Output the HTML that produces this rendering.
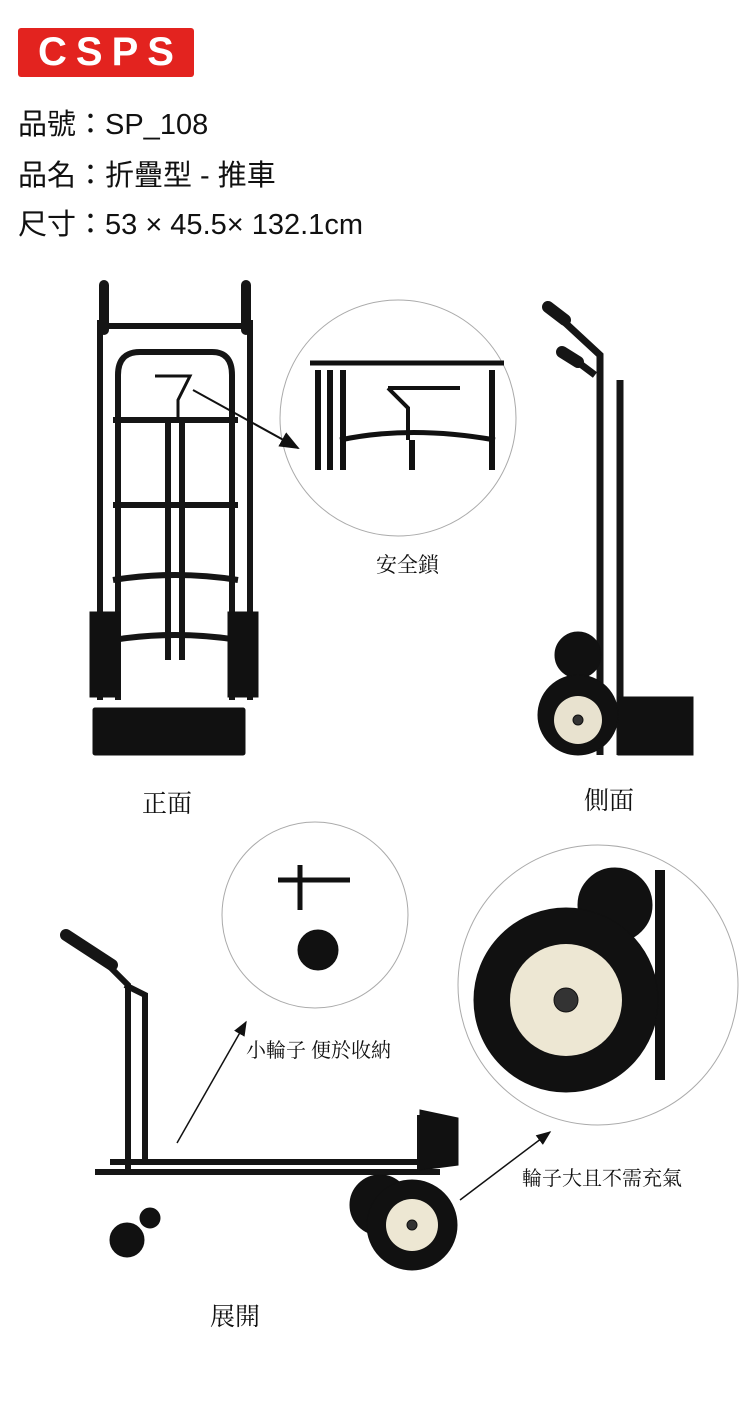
<!DOCTYPE html>
<html><head><meta charset="utf-8"><style>
body{margin:0;background:#fff;width:750px;height:1428px;overflow:hidden;position:relative;font-family:"Liberation Sans","Noto Sans CJK TC",sans-serif}
.t{position:absolute;left:18px;font-size:29px;color:#111;white-space:nowrap}
.s{font-family:"Liberation Serif","Noto Serif CJK SC",serif;position:absolute;color:#111;white-space:nowrap}
</style></head><body>
<div style="position:absolute;left:18px;top:28px;width:176px;height:49px;background:#e3231f;border-radius:3px;color:#fff;font-size:40px;font-weight:bold;letter-spacing:9px;text-align:center;line-height:49px;text-indent:9px">CSPS</div>
<div class="t" style="top:101px">品號：SP_108</div>
<div class="t" style="top:152px">品名：折疊型 - 推車</div>
<div class="t" style="top:201px">尺寸：53 × 45.5× 132.1cm</div>
<div class="s" style="left:376px;top:549px;font-size:21px">安全鎖</div>
<div class="s" style="left:142px;top:784px;font-size:25px">正面</div>
<div class="s" style="left:584px;top:781px;font-size:25px">側面</div>
<div class="s" style="left:246px;top:1034px;font-size:20px">小輪子 便於收納</div>
<div class="s" style="left:522px;top:1162px;font-size:20px">輪子大且不需充氣</div>
<div class="s" style="left:210px;top:1297px;font-size:25px">展開</div>
<svg width="750" height="1428" style="position:absolute;left:0;top:0" fill="none" stroke="#111">
<defs><marker id="a" markerWidth="10" markerHeight="8" refX="9" refY="4" orient="auto"><path d="M0,0L10,4L0,8z" fill="#111" stroke="none"/></marker></defs>
<g stroke="#151515" stroke-width="6">
<path d="M104 285V330M246 285V330" stroke-width="10" stroke-linecap="round"/>
<path d="M100 320V700M250 320V700"/>
<path d="M100 326H250"/>
<path d="M118 700V375Q118 352 140 352H212Q232 352 232 375V700"/>
<path d="M113 420H238M113 505H238M113 580Q175 570 238 580M113 640Q175 630 238 640"/>
<path d="M168 420V660M182 420V660"/>
</g>
<rect x="90" y="612" width="30" height="85" fill="#111"/>
<rect x="228" y="612" width="30" height="85" fill="#111"/>
<rect x="93" y="708" width="152" height="47" fill="#111" rx="2"/>
<path d="M155 376H190L178 400V420" stroke-width="3"/>
<circle cx="398" cy="418" r="118" stroke="#aaa" stroke-width="1"/>
<path d="M310 363H504" stroke-width="5"/>
<path d="M318 370V470M330 370V470M343 370V470M412 440V470M492 370V470" stroke-width="6"/>
<path d="M340 440Q410 425 495 440" stroke-width="5"/>
<path d="M388 388H460M388 388L408 408V440" stroke-width="4"/>
<path d="M193 390L298 448" stroke-width="2" marker-end="url(#a)"/>
<g stroke="#151515" stroke-width="7">
<path d="M548 307L565 320M562 352L578 362" stroke-width="12" stroke-linecap="round"/>
<path d="M560 318L600 355V755M575 360L595 375"/>
<path d="M620 380V755"/>
</g>
<rect x="618" y="697" width="75" height="58" fill="#111"/>
<circle cx="578" cy="655" r="23" fill="#111"/>
<circle cx="578" cy="715" r="40" fill="#111"/>
<circle cx="578" cy="720" r="24" fill="#e8e2cf" stroke="none"/>
<circle cx="578" cy="720" r="5" fill="#333"/>
<circle cx="315" cy="915" r="93" stroke="#aaa" stroke-width="1"/>
<path d="M278 880H350M300 865V910" stroke-width="5"/>
<circle cx="318" cy="950" r="20" fill="#111"/>
<circle cx="598" cy="985" r="140" stroke="#aaa" stroke-width="1"/>
<path d="M660 870V1080" stroke-width="10"/>
<circle cx="615" cy="905" r="37" fill="#111"/>
<circle cx="566" cy="1000" r="92" fill="#111"/>
<circle cx="566" cy="1000" r="56" fill="#ede7d3" stroke="none"/>
<circle cx="566" cy="1000" r="12" fill="#333"/>
<g stroke="#151515" stroke-width="6">
<path d="M66 935L112 965" stroke-width="12" stroke-linecap="round"/>
<path d="M105 962L128 985V1170M125 985L145 995V1160"/>
<path d="M95 1172H440M110 1162H420M420 1115V1170"/>
</g>
<path d="M420 1110L458 1118V1165L420 1170z" fill="#111"/>
<circle cx="150" cy="1218" r="10" fill="#111"/>
<circle cx="127" cy="1240" r="17" fill="#111"/>
<circle cx="380" cy="1205" r="30" fill="#111"/>
<circle cx="412" cy="1225" r="45" fill="#111"/>
<circle cx="412" cy="1225" r="26" fill="#ede7d3" stroke="none"/>
<circle cx="412" cy="1225" r="5" fill="#333"/>
<path d="M177 1143L246 1022" stroke-width="1.5" marker-end="url(#a)"/>
<path d="M460 1200L550 1132" stroke-width="1.5" marker-end="url(#a)"/>
</svg>
</body></html>
